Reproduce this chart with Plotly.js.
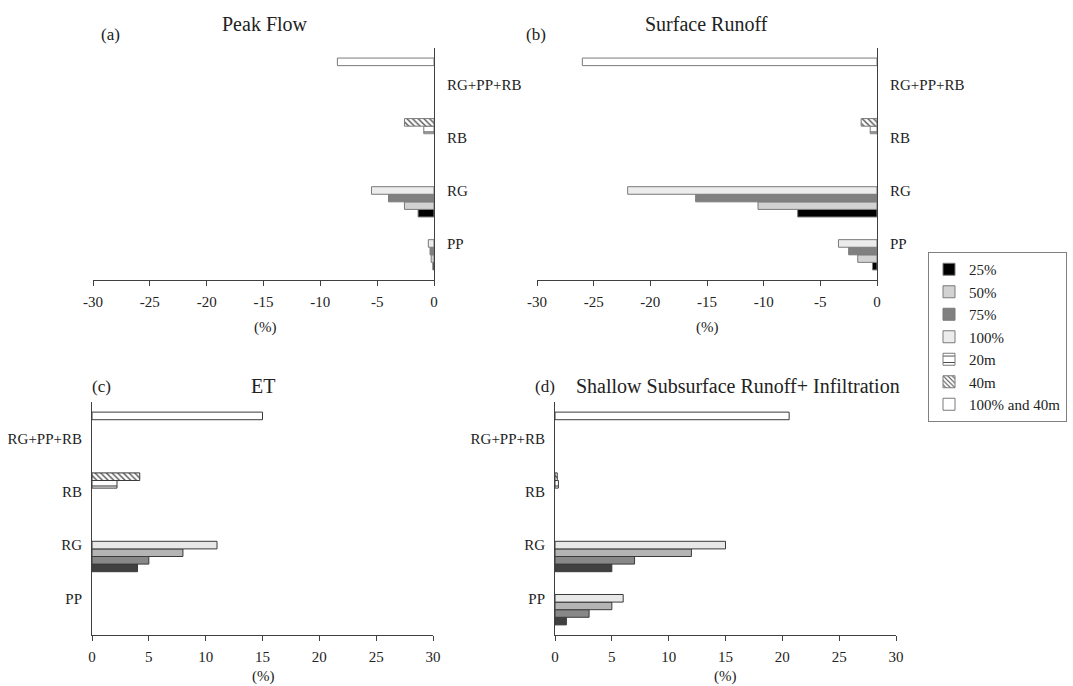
<!DOCTYPE html>
<html><head><meta charset="utf-8">
<script src="https://cdn.plot.ly/plotly-3.0.1.min.js"></script>
<style>html,body{margin:0;padding:0;background:#fff}#chart{width:1073px;height:686px}</style>
</head><body><div id="chart"></div>
<script>
// ---- data ----
const categories = ['RG+PP+RB','RB','RG','PP'];
const seriesNames = ['25%','50%','75%','100%','20m','40m','100% and 40m'];
// rows follow seriesNames, columns follow categories
const peakFlow = [
  [null,null,-1.4,-0.1],
  [null,null,-2.6,-0.25],
  [null,null,-4.0,-0.35],
  [null,null,-5.5,-0.5],
  [null,-0.9,null,null],
  [null,-2.6,null,null],
  [-8.5,null,null,null]
];
const surfaceRunoff = [
  [null,null,-7.0,-0.4],
  [null,null,-10.5,-1.7],
  [null,null,-16.0,-2.5],
  [null,null,-22.0,-3.4],
  [null,-0.6,null,null],
  [null,-1.4,null,null],
  [-26.0,null,null,null]
];
const evapotranspiration = [
  [null,null,4.0,null],
  [null,null,5.0,null],
  [null,null,8.0,null],
  [null,null,11.0,null],
  [null,2.2,null,null],
  [null,4.2,null,null],
  [15.0,null,null,null]
];
const shallowRunoffInfiltration = [
  [null,null,5.0,1.0],
  [null,null,7.0,3.0],
  [null,null,12.0,5.0],
  [null,null,15.0,6.0],
  [null,0.3,null,null],
  [null,0.2,null,null],
  [20.6,null,null,null]
];
const negTickVals = [-30,-25,-20,-15,-10,-5,0];
const negTickText = ['-30','-25','-20','-15','-10','-5','0'];
const posTickVals = [0,5,10,15,20,25,30];
const posTickText = ['0','5','10','15','20','25','30'];

// ---- styles ----
const FONT = 'Liberation Serif, Times New Roman, serif';
const topFill = ['#000000','#d2d2d2','#808080','#ececec','#ffffff','#ffffff','#ffffff'];
const botFill = ['#404040','#888888','#b4b4b4','#e8e8e8','#ffffff','#ffffff','#ffffff'];
function pat(i, fg){
  if(i===4) return {shape:'-', size:8, solidity:0.14, fgcolor:fg, bgcolor:'#ffffff'};
  if(i===5) return {shape:'\\', size:4, solidity:0.3, fgcolor:fg, bgcolor:'#ffffff'};
  return {shape:''};
}
const panels = [
  {data:peakFlow, xa:'x', ya:'y', fills:topFill, line:'#7a7a7a', legend:true},
  {data:surfaceRunoff, xa:'x2', ya:'y2', fills:topFill, line:'#7a7a7a', legend:false},
  {data:evapotranspiration, xa:'x3', ya:'y3', fills:botFill, line:'#3a3a3a', legend:false},
  {data:shallowRunoffInfiltration, xa:'x4', ya:'y4', fills:botFill, line:'#3a3a3a', legend:false}
];
const traces = [];
panels.forEach(p => {
  seriesNames.forEach((name, i) => {
    traces.push({
      type:'bar', orientation:'h', name:name,
      y:categories, x:p.data[i],
      xaxis:p.xa, yaxis:p.ya,
      marker:{color:p.fills[i], line:{color:p.line, width:1}, pattern:pat(i, '#404040')},
      showlegend:p.legend, hoverinfo:'x+name'
    });
  });
});

const W = 1073, H = 686;
const px = v => v / W, py = v => 1 - v / H;
const catArr = categories.slice().reverse();
function xax(l, r, neg, anchor){
  return {domain:[px(l), px(r)], anchor:anchor, range: neg ? [-30,0] : [0,30],
    tickmode:'array', tickvals: neg ? negTickVals : posTickVals, ticktext: neg ? negTickText : posTickText,
    ticks:'outside', ticklen:5, tickcolor:'#404040', tickwidth:1,
    showline:true, linecolor:'#404040', linewidth:1, showgrid:false, zeroline:false,
    tickfont:{family:FONT, size:15, color:'#222'}, ticklabelstandoff:3, fixedrange:true};
}
function yax(t, b, side, anchor, standoff){
  return {domain:[py(b), py(t)], anchor:anchor, type:'category', categoryorder:'array', categoryarray:catArr,
    range:[-0.69, 3.69], side:side, ticks:'', showline:true, linecolor:'#404040', linewidth:1,
    showgrid:false, zeroline:false, tickfont:{family:FONT, size:15, color:'#222'},
    ticklabelstandoff:standoff, fixedrange:true};
}
function ann(text, x, y, size, xanchor){
  return {text:text, x:px(x), y:py(y), xref:'paper', yref:'paper', showarrow:false,
    xanchor:xanchor || 'center', yanchor:'middle', font:{family:FONT, size:size, color:'#222'}};
}
const layout = {
  width:W, height:H, margin:{l:0, r:0, t:0, b:0},
  paper_bgcolor:'#ffffff', plot_bgcolor:'rgba(0,0,0,0)',
  font:{family:FONT, color:'#222'},
  barmode:'group', bargap:0, bargroupgap:0,
  xaxis: xax(93, 434, true, 'y'),
  yaxis: yax(48, 280, 'right', 'x', 9),
  xaxis2: xax(537, 877, true, 'y2'),
  yaxis2: yax(48, 280, 'right', 'x2', 9),
  xaxis3: xax(92, 433, false, 'y3'),
  yaxis3: yax(402, 635, 'left', 'x3', 6),
  xaxis4: xax(555, 896, false, 'y4'),
  yaxis4: yax(402, 635, 'left', 'x4', 6),
  legend:{x:px(928), y:py(252), xanchor:'left', yanchor:'top', traceorder:'normal',
    bgcolor:'#ffffff', bordercolor:'#808080', borderwidth:1, font:{family:FONT, size:15, color:'#222'},
    itemwidth:30, tracegroupgap:0},
  annotations:[
    ann('Peak Flow', 265, 24, 20),
    ann('(a)', 110, 35, 17),
    ann('(%)', 265, 327, 15),
    ann('Surface Runoff', 706, 24, 20),
    ann('(b)', 536, 35, 17),
    ann('(%)', 707, 327, 15),
    ann('ET', 263, 386, 20),
    ann('(c)', 101, 386, 17),
    ann('(%)', 263, 676, 15),
    ann('Shallow Subsurface Runoff+ Infiltration', 574, 386, 20, 'left'),
    ann('(d)', 545, 386, 17),
    ann('(%)', 725, 676, 15)
  ]
};
Plotly.newPlot('chart', traces, layout, {displayModeBar:false, staticPlot:true});
</script>
</body></html>
